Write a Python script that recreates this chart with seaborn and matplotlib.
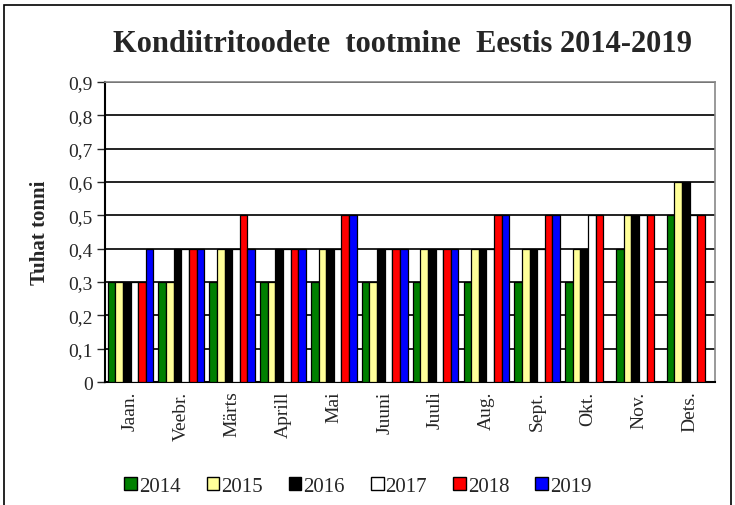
import numpy as np
import pandas as pd
import matplotlib
matplotlib.use("Agg")
import matplotlib.pyplot as plt
from matplotlib.patches import Rectangle, Patch
import seaborn as sns

# ---------------------------------------------------
# DATA (thousand tonnes)
# ---------------------------------------------------

months = ["Jaan.", "Veebr.", "Märts", "Aprill", "Mai", "Juuni",
          "Juuli", "Aug.", "Sept.", "Okt.", "Nov.", "Dets."]
years = ["2014", "2015", "2016", "2017", "2018", "2019"]

v2014 = [0.3, 0.3, 0.3, 0.3, 0.3, 0.3, 0.3, 0.3, 0.3, 0.3, 0.4, 0.5]
v2015 = [0.3, 0.3, 0.4, 0.3, 0.4, 0.3, 0.4, 0.4, 0.4, 0.4, 0.5, 0.6]
v2016 = [0.3, 0.4, 0.4, 0.4, 0.4, 0.4, 0.4, 0.4, 0.4, 0.4, 0.5, 0.6]
v2017 = [0.3, 0.4, 0.4, 0.4, 0.4, 0.4, 0.4, 0.4, 0.4, 0.5, 0.5, 0.5]
v2018 = [0.3, 0.4, 0.5, 0.4, 0.5, 0.4, 0.4, 0.5, 0.5, 0.5, 0.5, 0.5]
v2019 = [0.4, 0.4, 0.4, 0.4, 0.5, 0.4, 0.4, 0.5, 0.5, np.nan, np.nan, np.nan]

colors = ["#008000", "#FFFF99", "#000000", "#FFFFFF", "#FF0000", "#0000FF"]

yticks = [0, 0.1, 0.2, 0.3, 0.4, 0.5, 0.6, 0.7, 0.8, 0.9]
ytick_labels = ["0", "0,1", "0,2", "0,3", "0,4", "0,5", "0,6", "0,7", "0,8", "0,9"]

# ---------------------------------------------------
# PLOT
# ---------------------------------------------------

series = [v2014, v2015, v2016, v2017, v2018, v2019]
df = pd.DataFrame({
    "Kuu": np.tile(months, len(years)),
    "Aasta": np.repeat(years, len(months)),
    "Tuhat tonni": np.concatenate(series),
})

sns.set_style("white")
serif = ["Liberation Serif", "DejaVu Serif"]
plt.rcParams["font.family"] = serif
plt.rcParams["font.serif"] = serif

fig = plt.figure(figsize=(7.35, 5.06), dpi=100)
ax = fig.add_axes([0.143, 0.243, 0.830, 0.593])

sns.barplot(data=df, x="Kuu", y="Tuhat tonni", hue="Aasta",
            order=months, hue_order=years, palette=colors,
            width=0.9, edgecolor="black", linewidth=0.9,
            saturation=1, legend=False, ax=ax, zorder=3)

ax.set_ylim(0, 0.9)
ax.set_xlim(-0.5, len(months) - 0.5)
ax.set_yticks(yticks)
ax.set_yticklabels(ytick_labels, fontsize=14, family=serif)
ax.yaxis.grid(True, color="#111111", linewidth=1.3, zorder=0)
ax.set_axisbelow(True)

ax.set_xticks(range(len(months)))
ax.set_xticklabels(months, rotation=90, fontsize=14, family=serif)
ax.set_xticks(np.arange(-0.5, len(months)), minor=True)
ax.tick_params(axis="x", which="major", length=0, pad=6)
ax.tick_params(axis="x", which="minor", length=6, width=1, direction="out")
ax.tick_params(axis="y", length=6, width=1, direction="out", left=True, pad=3)

for side in ["left", "bottom"]:
    ax.spines[side].set_color("black")
    ax.spines[side].set_linewidth(1.5)
for side in ["top", "right"]:
    ax.spines[side].set_color("#888888")
    ax.spines[side].set_linewidth(1.2)

ax.set_xlabel("")
ax.set_ylabel("Tuhat tonni", fontsize=15, fontweight="bold", family=serif,
              labelpad=13)

fig.text(0.548, 0.913, "Kondiitritoodete  tootmine  Eestis 2014-2019",
         ha="center", va="center", fontsize=22, fontweight="bold",
         family=serif)

handles = [Patch(facecolor=c, edgecolor="black", linewidth=1) for c in colors]
fig.legend(handles, years, loc="center", bbox_to_anchor=(0.487, 0.037),
           ncol=6, frameon=False, prop={"family": serif, "size": 15},
           handlelength=0.6, handleheight=0.6, handletextpad=0.1,
           columnspacing=1.25)

# outer chart frame
fig.patches.append(Rectangle((0.006, -0.02), 0.988, 1.008,
                             transform=fig.transFigure, fill=False,
                             edgecolor="black", linewidth=1.2))

fig.savefig("out.png", dpi=100)
